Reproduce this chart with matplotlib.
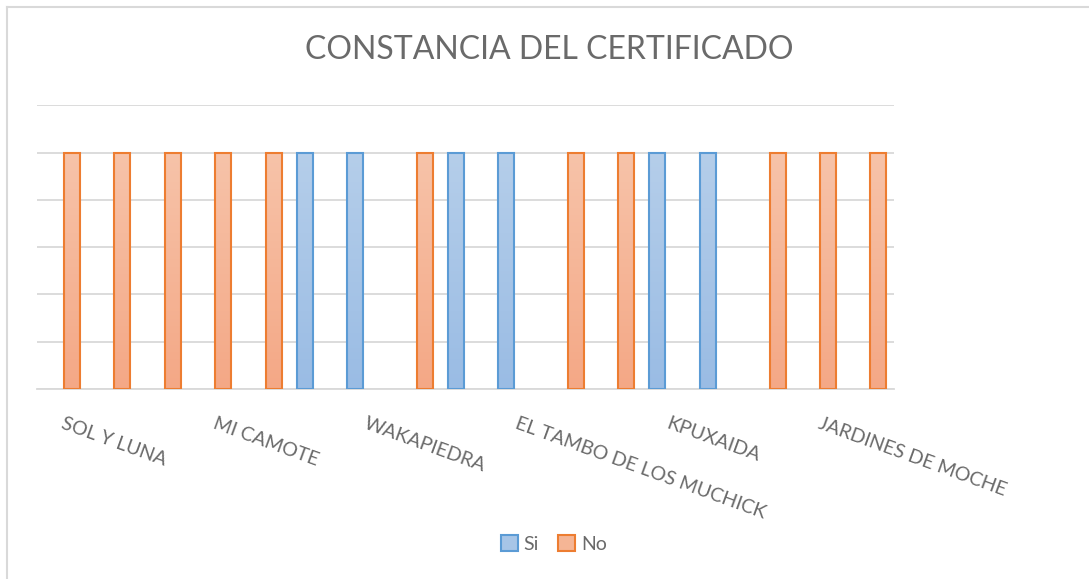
import matplotlib
matplotlib.use("Agg")
import matplotlib.pyplot as plt
import numpy as np
from matplotlib.colors import LinearSegmentedColormap
from matplotlib.patches import Patch
from matplotlib.lines import Line2D

# only every third category name is readable in the chart
categories = ['SOL Y LUNA', '', '', 'MI CAMOTE', '', '', 'WAKAPIEDRA', '', '',
              'EL TAMBO DE LOS MUCHICK', '', '', 'KPUXAIDA', '', '',
              'JARDINES DE MOCHE', '']
si = [0, 0, 0, 0, 0, 1, 1, 0, 1, 1, 0, 0, 1, 1, 0, 0, 0]
no = [1, 1, 1, 1, 1, 0, 0, 1, 0, 0, 1, 1, 0, 0, 1, 1, 1]

text_col = '#6a6a6a'
grid_col = '#D9D9D9'

fig = plt.figure(figsize=(10.89, 5.79), dpi=100)
ax = fig.add_axes([37 / 1089, 1 - 389 / 579, 857 / 1089, (389 - 105.3) / 579])

x = np.arange(len(categories))
w = 0.317
off = 0.192

series = [
    (si, -off, '#5B9BD5', ['#9ABCE4', '#B5CEEA']),
    (no, off, '#ED7D31', ['#F4A886', '#F7C3A9']),
]

grad = np.linspace(0, 1, 64).reshape(-1, 1)
for vals, dx, edge, (c0, c1) in series:
    cmap = LinearSegmentedColormap.from_list('g', [c0, c1])
    xs = [xi + dx for xi, v in zip(x, vals) if v > 0]
    hs = [v for v in vals if v > 0]
    bars = ax.bar(xs, hs, width=w, facecolor='none', edgecolor=edge,
                  linewidth=1.5, zorder=3)
    for rect in bars:
        x0, y0 = rect.get_xy()
        im = ax.imshow(grad, extent=[x0, x0 + rect.get_width(), y0, y0 + rect.get_height()],
                       aspect='auto', cmap=cmap, origin='lower', zorder=2)
        im.set_clip_path(rect)

ax.set_xlim(-0.5, len(categories) - 0.5)
ax.set_ylim(0, 1.2)
ax.set_yticks(np.arange(0, 1.21, 0.2))
ax.set_yticklabels([])
ax.tick_params(axis='y', length=0)
ax.grid(axis='y', color=grid_col, linewidth=1.3, zorder=0)
ax.set_axisbelow(True)
for s in ['top', 'right', 'left']:
    ax.spines[s].set_visible(False)
ax.spines['bottom'].set_color(grid_col)
ax.spines['bottom'].set_linewidth(1.3)

ax.set_xticks(x)
ax.set_xticklabels(categories, rotation=-20, ha='left', va='center',
                   rotation_mode='anchor', fontsize=14, color=text_col,
                   family='Lato')
ax.tick_params(axis='x', length=0, pad=24)

fig.text(549 / 1089, 1 - 50 / 579, 'CONSTANCIA DEL CERTIFICADO', ha='center',
         va='center', fontsize=23, color=text_col, family='Lato')

handles = [Patch(facecolor='#A7C5E7', edgecolor='#5B9BD5', linewidth=1.5, label='Si'),
           Patch(facecolor='#F5B595', edgecolor='#ED7D31', linewidth=1.5, label='No')]
leg = fig.legend(handles=handles, loc='center', bbox_to_anchor=(554 / 1089, 1 - 544 / 579),
                 ncol=2, frameon=False, handlelength=0.85, handleheight=0.85,
                 handletextpad=0.3, columnspacing=1.0,
                 prop={'family': 'Lato', 'size': 14})
for t in leg.get_texts():
    t.set_color(text_col)

# chart area border (only left and top visible in the picture)
fig.add_artist(Line2D([6.5 / 1089, 6.5 / 1089], [0, 1 - 6.5 / 579], color=grid_col,
                      linewidth=1.5, transform=fig.transFigure))
fig.add_artist(Line2D([6.5 / 1089, 1], [1 - 6.5 / 579, 1 - 6.5 / 579], color=grid_col,
                      linewidth=1.5, transform=fig.transFigure))

fig.savefig('out.png', dpi=100)
